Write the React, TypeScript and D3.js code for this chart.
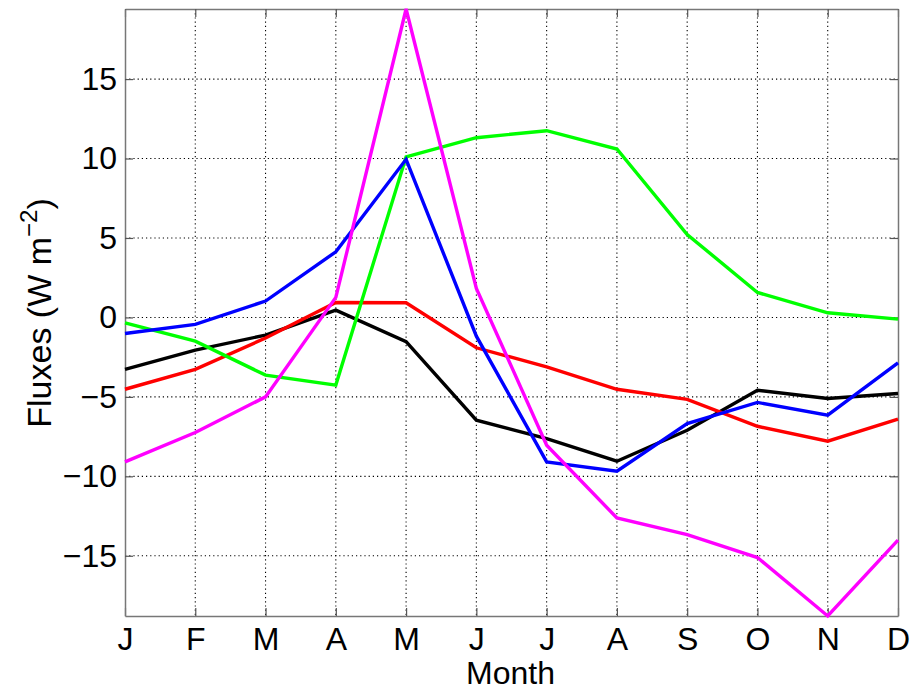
import * as d3 from 'd3';
import { useEffect, useMemo, useRef } from 'react';

const months = ['J', 'F', 'M', 'A', 'M', 'J', 'J', 'A', 'S', 'O', 'N', 'D'];
const yTicks = [-15, -10, -5, 0, 5, 10, 15];

const blackSeries = [-3.27, -2.06, -1.11, 0.46, -1.53, -6.47, -7.62, -9.05, -7.1, -4.58, -5.1, -4.79];
const redSeries = [-4.52, -3.27, -1.3, 0.94, 0.92, -1.91, -3.11, -4.52, -5.16, -6.85, -7.79, -6.4];
const greenSeries = [-0.34, -1.49, -3.63, -4.26, 10.11, 11.31, 11.75, 10.6, 5.22, 1.57, 0.29, -0.11];
const blueSeries = [-1.01, -0.44, 1.03, 4.13, 9.95, -1.18, -9.09, -9.68, -6.68, -5.35, -6.15, -2.86];
const magentaSeries = [-9.09, -7.24, -5.0, 1.26, 19.41, 1.83, -8.04, -12.62, -13.67, -15.11, -18.79, -14.02];

const SERIES = [
  { color: '#000000', values: blackSeries },
  { color: '#ff0000', values: redSeries },
  { color: '#00ff00', values: greenSeries },
  { color: '#0000ff', values: blueSeries },
  { color: '#ff00ff', values: magentaSeries },
];

const WIDTH = 910;
const HEIGHT = 691;
const MARGIN = { top: 9, right: 12, bottom: 75, left: 125 };
const FONT = '"Liberation Sans", Arial, Helvetica, sans-serif';

export const FluxChart = () => {
  const axesRef = useRef<SVGGElement | null>(null);

  const boundsWidth = WIDTH - MARGIN.left - MARGIN.right;
  const boundsHeight = HEIGHT - MARGIN.top - MARGIN.bottom;

  // axis is tight to the data
  const all = SERIES.flatMap((s) => s.values);
  const [yMin, yMax] = d3.extent(all) as [number, number];

  const xScale = useMemo(
    () => d3.scaleLinear().domain([0, months.length - 1]).range([0, boundsWidth]),
    [boundsWidth]
  );
  const yScale = useMemo(
    () => d3.scaleLinear().domain([yMin, yMax]).range([boundsHeight, 0]),
    [boundsHeight, yMin, yMax]
  );

  useEffect(() => {
    const g = d3.select(axesRef.current);
    g.selectAll('*').remove();

    const xIdx = d3.range(months.length);

    // grid
    g.append('g')
      .selectAll('line')
      .data(xIdx.slice(1, -1))
      .join('line')
      .attr('x1', (d) => xScale(d))
      .attr('x2', (d) => xScale(d))
      .attr('y1', 0)
      .attr('y2', boundsHeight)
      .attr('stroke', '#000')
      .attr('stroke-width', 1.1)
      .attr('stroke-dasharray', '1.2,3');
    g.append('g')
      .selectAll('line')
      .data(yTicks)
      .join('line')
      .attr('x1', 0)
      .attr('x2', boundsWidth)
      .attr('y1', (d) => yScale(d))
      .attr('y2', (d) => yScale(d))
      .attr('stroke', '#000')
      .attr('stroke-width', 1.1)
      .attr('stroke-dasharray', '1.2,3');

    // x axis bottom
    const xAxis = g
      .append('g')
      .attr('transform', `translate(0, ${boundsHeight})`)
      .call(
        d3
          .axisBottom(xScale)
          .tickValues(xIdx)
          .tickFormat((d) => months[d as number])
          .tickSizeInner(-8)
          .tickSizeOuter(0)
          .tickPadding(11)
      );
    // x axis top (ticks only)
    const xTop = g.append('g').call(
      d3.axisTop(xScale).tickValues(xIdx).tickFormat(() => '').tickSizeInner(-8).tickSizeOuter(0)
    );
    // y axis left
    const yAxis = g.append('g').call(
      d3
        .axisLeft(yScale)
        .tickValues(yTicks)
        .tickFormat((d) => String(d).replace('-', '\u2212'))
        .tickSizeInner(-8)
        .tickSizeOuter(0)
        .tickPadding(8)
    );
    // y axis right (ticks only)
    const yRight = g
      .append('g')
      .attr('transform', `translate(${boundsWidth}, 0)`)
      .call(d3.axisRight(yScale).tickValues(yTicks).tickFormat(() => '').tickSizeInner(-8).tickSizeOuter(0));

    [xAxis, xTop, yAxis, yRight].forEach((a) => {
      a.select('.domain').attr('stroke', '#777').attr('stroke-width', 1.5);
      a.selectAll('.tick line').attr('stroke', '#555').attr('stroke-width', 1.2);
      a.selectAll('text')
        .attr('font-family', FONT)
        .attr('font-size', 32)
        .attr('fill', '#000');
    });
    xAxis.selectAll('text').attr('dy', '0.71em');
  }, [xScale, yScale, boundsWidth, boundsHeight]);

  const lineBuilder = d3
    .line<number>()
    .x((_, i) => xScale(i))
    .y((d) => yScale(d));

  return (
    <svg
      width={WIDTH}
      height={HEIGHT}
      style={{ position: 'absolute', left: 0, top: 0, background: '#fff' }}
    >
      <g transform={`translate(${MARGIN.left},${MARGIN.top})`}>
        <g ref={axesRef} />
        {SERIES.map((s, i) => (
          <path
            key={i}
            d={lineBuilder(s.values) ?? ''}
            fill="none"
            stroke={s.color}
            strokeWidth={3.4}
            strokeLinejoin="miter"
          />
        ))}
      </g>
      <text
        x={MARGIN.left + boundsWidth / 2 - 1}
        y={684}
        textAnchor="middle"
        fontFamily={FONT}
        fontSize={32}
      >
        Month
      </text>
      <text
        transform={`translate(51, 313) rotate(-90)`}
        textAnchor="middle"
        fontFamily={FONT}
        fontSize={34}
      >
        Fluxes (W m
        <tspan fontSize={24} dy={-14}>
          −2
        </tspan>
        <tspan dy={14}>)</tspan>
      </text>
    </svg>
  );
};

export default function App() {
  return <FluxChart />;
}
